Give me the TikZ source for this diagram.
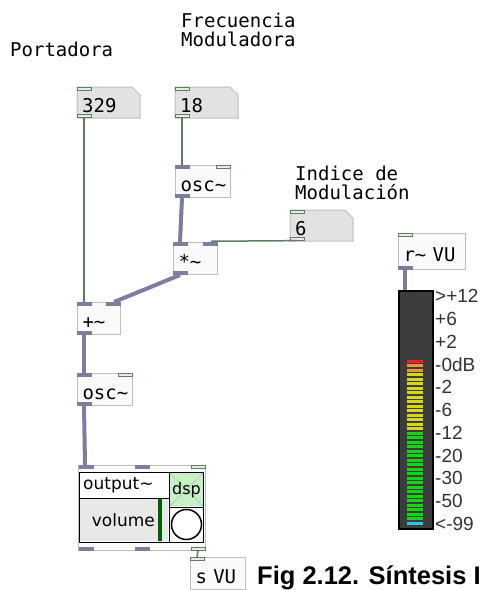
\documentclass[tikz,border=0pt]{standalone}
\usepackage{fontspec}
\newfontfamily\pdmono{DejaVu Sans Mono}
\newfontfamily\pdsans{DejaVu Sans}
\newfontfamily\capsans{Liberation Sans}
\newcommand\pdtext{\pdmono\fontsize{19}{19}\selectfont}

\definecolor{boxline}{RGB}{190,190,190}
\definecolor{objfill}{RGB}{250,250,250}
\definecolor{numfill}{RGB}{226,226,226}
\definecolor{sigcol}{RGB}{125,125,160}
\definecolor{ctlcol}{RGB}{95,125,95}
\definecolor{ctlfill}{RGB}{228,236,228}
\definecolor{dspgreen}{RGB}{200,240,200}
\definecolor{dspcross}{RGB}{170,195,170}
\definecolor{volgray}{RGB}{232,232,232}
\definecolor{volbar}{RGB}{0,95,0}
\definecolor{vubody}{RGB}{60,60,60}
\definecolor{ledred}{RGB}{240,30,30}
\definecolor{ledorange}{RGB}{235,150,50}
\definecolor{ledyellow}{RGB}{215,215,25}
\definecolor{ledgreen}{RGB}{20,215,20}
\definecolor{ledcyan}{RGB}{40,200,230}

\tikzset{
  pics/sigport/.style={code={
    \fill[sigcol] (0,0) rectangle (15,4);
  }},
  pics/ctlport/.style={code={
    \draw[ctlcol, fill=ctlfill, line width=1pt] (0.5,0.5) rectangle (14.5,3.5);
  }},
  pics/numbox/.style={code={
    \draw[boxline, fill=numfill, line width=1pt] (0,0) -- (55,0) -- (63,8) -- (63,31) -- (0,31) -- cycle;
  }},
  pdobj/.style={draw=boxline, fill=objfill, line width=1pt, anchor=north west, inner xsep=5pt, inner ysep=0pt,
    minimum height=32pt, text height=20pt, text depth=0pt, align=left, font=\pdtext},
  pdnum/.style={anchor=north west, inner xsep=5pt, inner ysep=0pt, minimum height=31pt,
    text height=20pt, text depth=0pt, text width=53pt, align=left, font=\pdtext},
  pdlab/.style={font=\pdtext, inner sep=0pt, align=left, anchor=north west},
  gop/.style={draw=boxline, fill=white, line width=1pt, anchor=north west, inner sep=0pt},
  gui/.style={font=\pdsans\fontsize{17}{17}\selectfont, inner sep=0pt},
  vulab/.style={font=\capsans\fontsize{19}{19}\selectfont, text=black!80, inner sep=0pt, anchor=west},
  sig/.style={sigcol, line width=4pt},
  ctl/.style={ctlcol, line width=1.5pt}
}

\begin{document}
\begin{tikzpicture}[x=1pt,y=-1pt]
\fill[white] (0,0) rectangle (487,590);
\useasboundingbox (0,0) rectangle (487,590);
\clip (0,0) rectangle (487,590);

% ---------------- comments / labels ----------------
\node[pdlab] (lblport) at (10,42) {Portadora};
\node[pdlab] (lblfreq) at (181,13) {Frecuencia\\Moduladora};
\node[pdlab] (lblind) at (295,166) {Indice de\\Modulación};

% ---------------- number boxes ----------------
\pic at (77,87) {numbox};
\node[pdnum] (n329) at (77,87) {329};
\pic at (175,87) {numbox};
\node[pdnum] (n18) at (175,87) {18};
\pic at (290,210) {numbox};
\node[pdnum] (n6) at (290,210) {6};

% ---------------- objects ----------------
\node[pdobj, text width=45pt] (oscA) at (175,165) {osc\textasciitilde};
\node[pdobj, text width=34pt] (mulA) at (173,242) {*\textasciitilde};
\node[pdobj, text width=33pt] (addA) at (77,302) {+\textasciitilde};
\node[pdobj, text width=45pt] (oscB) at (77,373) {osc\textasciitilde};
\node[pdobj, text width=45pt] (sendvu) at (190,557) {s VU};
\node[pdobj, text width=57pt, minimum height=36pt] (recvu) at (398,233) {r\textasciitilde{} VU};

% ---------------- output~ abstraction ----------------
\node[gop, minimum width=127pt, minimum height=85pt] (out) at (78,465) {};
\fill[volgray] (80,499) rectangle (168,541);
\fill[volbar] (158,499) rectangle (162,541);
\fill[dspgreen] (170,473) rectangle (203,506);
\draw[dspcross, line width=0.6pt] (170,473) -- (203,506) (203,473) -- (170,506);
\draw[black, line width=1pt] (79.5,472.5) rectangle (203.5,542);
\draw[black, line width=1pt] (79.5,498) -- (169,498) (169,472.5) -- (169,542) (169,507) -- (203.5,507);
\draw[black, fill=white, line width=1.5pt] (186.5,524.5) circle (15pt);
\node[gui, anchor=west] (outlbl) at (83,485) {output\textasciitilde};
\node[gui, anchor=east] (vollbl) at (155,520) {volume};
\node[gui, font=\pdsans\fontsize{16}{16}\selectfont] (dsplbl) at (186.5,490) {dsp};

% ---------------- inlets / outlets ----------------
\foreach \n in {n329,n18,n6}{
  \pic at (\n.north west) {ctlport};
  \pic at ([yshift=4pt]\n.south west) {ctlport};
}
\foreach \n in {oscA,oscB}{
  \pic at (\n.north west) {sigport};
  \pic at ([xshift=-15pt]\n.north east) {ctlport};
  \pic at ([yshift=4pt]\n.south west) {sigport};
}
\foreach \n in {mulA,addA}{
  \pic at (\n.north west) {sigport};
  \pic at ([xshift=-15pt]\n.north east) {sigport};
  \pic at ([yshift=4pt]\n.south west) {sigport};
}
\pic at (recvu.north west) {ctlport};
\pic at ([yshift=4pt]recvu.south west) {sigport};
\pic at (sendvu.north west) {ctlport};
\pic at ([xshift=1pt]out.north west) {sigport};
\pic at ([xshift=57pt]out.north west) {sigport};
\pic at ([xshift=-15pt]out.north east) {ctlport};
\pic at ([xshift=1pt,yshift=4pt]out.south west) {sigport};
\pic at ([xshift=57pt,yshift=4pt]out.south west) {sigport};
\pic at ([xshift=-15pt,yshift=4pt]out.south east) {ctlport};

% ---------------- VU meter ----------------
\node[draw=black, fill=vubody, line width=1.8pt, anchor=north west, minimum width=34pt, minimum height=238pt, inner sep=0pt] (vu) at (398,290) {};
\fill[ledred] (407,359.5) rectangle (423,362.5);
\foreach \i in {1,2}
  \fill[ledorange] (407,{359.5+4.5*\i}) rectangle (423,{362.5+4.5*\i});
\foreach \i in {3,...,15}
  \fill[ledyellow] (407,{359.5+4.5*\i}) rectangle (423,{362.5+4.5*\i});
\foreach \i in {16,...,35}
  \fill[ledgreen] (407,{359.5+4.5*\i}) rectangle (423,{362.5+4.5*\i});
\fill[ledcyan] (407,521.5) rectangle (423,524.5);
\foreach \t [count=\k from 0] in {>+12,+6,+2,-0dB,-2,-6,-12,-20,-30,-50,<-99}
  \node[vulab] (vul\k) at (435,{296+22.8*\k}) {\t};

% ---------------- connections ----------------
\draw[ctl] ([xshift=7pt]n329.south west) -- ([xshift=7pt]addA.north west);
\draw[ctl] ([xshift=7pt]n18.south west) -- ([xshift=7pt]oscA.north west);
\draw[sig] ([xshift=7pt]oscA.south west) -- ([xshift=7pt]mulA.north west);
\draw[ctl] ([xshift=7pt,yshift=0.75pt]n6.south west) -- ([xshift=-7pt,yshift=0.75pt]mulA.north east);
\draw[sig] ([xshift=7pt]mulA.south west) -- ([xshift=-7pt]addA.north east);
\draw[sig] ([xshift=7pt]addA.south west) -- ([xshift=7pt]oscB.north west);
\draw[sig] ([xshift=7pt]oscB.south west) -- ([xshift=7pt]out.north west);
\draw[ctl] ([xshift=-8pt]out.south east) -- ([xshift=7pt]sendvu.north west);
\draw[sig] ([xshift=7pt]recvu.south west) -- ([xshift=7pt]vu.north west);

% ---------------- caption ----------------
\node[font=\capsans\bfseries\fontsize{25.5}{25.5}\selectfont, anchor=base west, inner sep=0pt] (caption) at (257,584) {Fig 2.12. Síntesis I};

\end{tikzpicture}
\end{document}
